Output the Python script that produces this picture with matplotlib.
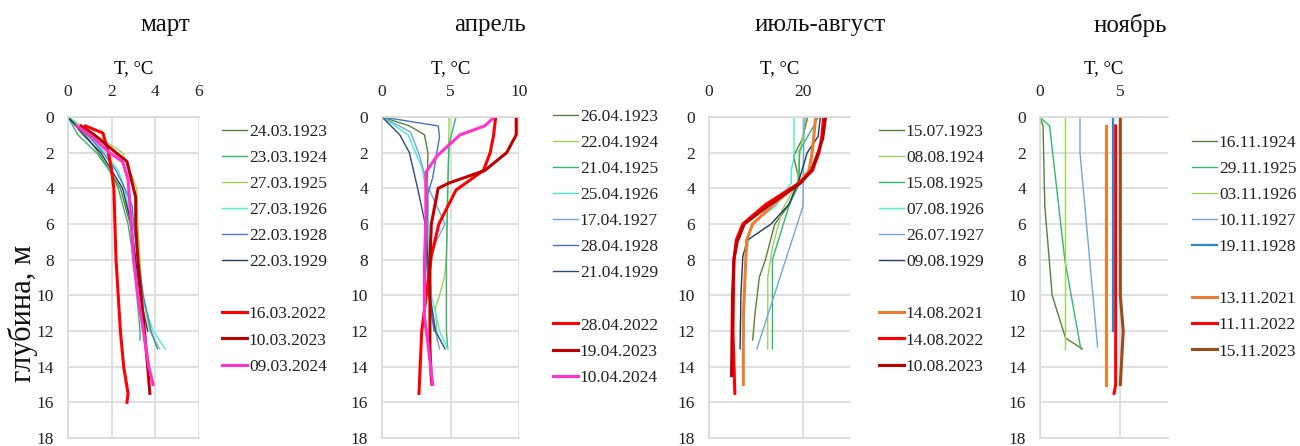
import matplotlib.pyplot as plt
from matplotlib.lines import Line2D

plt.rcParams['font.family'] = ['Liberation Serif', 'DejaVu Serif']

# ---- data: one block per panel (depth in m, temperature in °C) ----
titles = ['март', 'апрель', 'июль-август', 'ноябрь']
x_limits = [(0, 6), (0, 10), (0, 30), (0, 8)]
x_ticks = [[0, 2, 4, 6], [0, 5, 10], [0, 20], [0, 5]]
depth_ticks = list(range(0, 19, 2))

mar_dates = ['24.03.1923', '23.03.1924', '27.03.1925', '27.03.1926', '22.03.1928', '22.03.1929',
             '16.03.2022', '10.03.2023', '09.03.2024']
mar_depth = [
    [0, 1, 2, 3, 4, 6, 8, 10, 12],
    [0, 1, 2, 3, 4, 6, 8, 10, 12, 12.5],
    [0, 2, 4, 6, 8, 10, 12, 13],
    [0, 1, 2, 3, 4, 6, 8, 10, 12, 13],
    [0, 1, 2, 3, 4, 5, 6, 8, 10, 12, 13],
    [0, 1, 2, 3, 4, 6, 8, 10, 12],
    [0.5, 0.9, 2, 3, 4, 6, 8, 10, 12, 14, 15.5, 16],
    [0.5, 1, 2.5, 4.5, 6, 8, 10, 12, 14, 15.5],
    [0.5, 1, 2, 2.5, 3.5, 6, 8, 10, 12, 14, 15],
]
mar_temp = [
    [0, 0.8, 1.4, 1.9, 2.4, 2.85, 3.05, 3.2, 3.5],
    [0, 0.45, 1.3, 1.9, 2.3, 2.75, 3.0, 3.15, 3.3, 3.3],
    [0, 2.5, 3.15, 3.2, 3.3, 3.4, 3.75, 4.2],
    [0, 0.9, 1.7, 2.3, 2.6, 2.9, 3.1, 3.35, 3.9, 4.45],
    [0, 0.9, 1.6, 2.2, 2.6, 2.95, 3.0, 3.2, 3.45, 3.8, 4.1],
    [0, 0.7, 1.5, 2.0, 2.5, 2.9, 3.1, 3.3, 3.65],
    [0.8, 1.6, 1.85, 2.0, 2.1, 2.15, 2.2, 2.3, 2.4, 2.55, 2.75, 2.7],
    [0.6, 1.2, 2.7, 3.1, 3.1, 3.2, 3.35, 3.5, 3.65, 3.75],
    [0.4, 1.0, 1.9, 2.5, 2.75, 2.9, 3.0, 3.2, 3.45, 3.7, 3.9],
]

apr_dates = ['26.04.1923', '22.04.1924', '21.04.1925', '25.04.1926', '17.04.1927', '28.04.1928',
             '21.04.1929', '28.04.2022', '19.04.2023', '10.04.2024']
apr_depth = [
    [0, 0.5, 1, 2, 4, 6, 8, 10, 12],
    [0, 2, 4, 6, 8, 9, 10, 10.7, 12, 12.5],
    [0, 1.5, 4, 6, 8, 10, 12, 13],
    [0, 1, 2.8, 4.7, 6, 8, 10, 12, 13],
    [0, 0.85, 2.2, 3.9, 6, 6.9, 8, 10, 12, 13],
    [0, 0.5, 1.1, 3.4, 4.3, 6, 8, 10, 12],
    [0, 1, 2, 4, 5.8, 8, 10, 12, 13],
    [0, 1, 2, 3, 4.1, 6, 7.8, 9.3, 12, 15.5],
    [0, 1, 2, 3, 3.7, 4, 6, 8, 10, 13, 14.7, 15],
    [0, 0.5, 1, 2.2, 3.1, 6, 8, 11.2, 12.7, 15],
]
apr_temp = [
    [0, 2.0, 3.1, 3.35, 3.3, 3.2, 3.25, 3.4, 3.9],
    [4.9, 4.85, 4.8, 4.75, 4.7, 4.55, 4.2, 3.9, 4.0, 4.0],
    [5.4, 4.9, 4.8, 4.75, 4.7, 4.7, 4.7, 4.8],
    [0, 1.9, 2.9, 3.35, 3.4, 3.4, 3.6, 4.2, 4.8],
    [0, 2.1, 2.75, 3.35, 4.6, 4.0, 3.5, 3.5, 3.9, 4.2],
    [0, 4.1, 4.2, 3.7, 3.35, 3.3, 3.3, 3.4, 3.8],
    [0, 1.3, 2.0, 2.6, 3.1, 3.35, 3.5, 3.9, 4.6],
    [8.3, 8.15, 7.9, 7.4, 5.4, 4.15, 3.6, 3.35, 2.9, 2.7],
    [9.8, 9.8, 9.1, 7.5, 4.9, 4.1, 3.6, 3.5, 3.5, 3.5, 3.6, 3.65],
    [8.2, 7.5, 5.7, 4.0, 3.2, 3.2, 3.1, 3.1, 3.35, 3.7],
]

aug_dates = ['15.07.1923', '08.08.1924', '15.08.1925', '07.08.1926', '26.07.1927', '09.08.1929',
             '14.08.2021', '14.08.2022', '10.08.2023']
aug_depth = [
    [0, 1.2, 2.2, 3.7, 5, 6, 8, 9, 11, 12.5],
    [0, 1.1, 2.4, 3.7, 5.2, 7.3, 9, 13],
    [0, 0.5, 1.9, 3.7, 5, 8, 13],
    [0, 2.2, 3, 3.7, 5, 6, 8, 10, 12, 12.5],
    [0, 1, 3, 5, 13],
    [0, 1.1, 2, 3.5, 4.9, 6, 6.9, 7.8, 9.9, 13],
    [0, 1.9, 3, 3.7, 4.7, 6, 6.9, 11.2, 15],
    [0, 1.1, 2, 3, 3.7, 4.9, 6, 6.9, 8, 12, 15.5],
    [0, 1.2, 2, 3, 3.7, 5, 6, 7, 8, 10, 14.5],
]
aug_temp = [
    [21.0, 19.9, 18.0, 19.3, 16.8, 14.0, 12.0, 10.7, 9.8, 9.3],
    [20.6, 19.9, 19.2, 18.8, 15.6, 13.5, 12.5, 12.5],
    [23.2, 22.3, 19.2, 19.2, 17.0, 13.5, 13.5],
    [18.1, 18.1, 17.5, 17.5, 14.2, 9.0, 7.8, 7.6, 7.5, 7.5],
    [20.2, 20.2, 20.1, 20.0, 10.2],
    [23.7, 23.2, 20.9, 19.2, 17.0, 13.2, 8.2, 7.2, 6.8, 6.6],
    [22.7, 22.0, 21.3, 19.2, 14.6, 9.3, 8.0, 7.3, 7.3],
    [24.4, 24.0, 23.4, 22.0, 19.2, 12.1, 7.2, 5.8, 5.3, 5.1, 5.5],
    [24.8, 24.2, 23.2, 21.8, 19.5, 12.5, 7.5, 6.0, 5.3, 5.0, 4.8],
]

nov_dates = ['16.11.1924', '29.11.1925', '03.11.1926', '10.11.1927', '19.11.1928',
             '13.11.2021', '11.11.2022', '15.11.2023']
nov_depth = [
    [0, 0.5, 5, 10, 12.4, 13],
    [0.1, 0.5, 8, 13],
    [0, 13],
    [0, 2, 12.9],
    [0, 12],
    [0.5, 15],
    [0.5, 15, 15.5],
    [0, 10, 12, 15],
]
nov_temp = [
    [0, 0.19, 0.3, 0.76, 1.6, 2.65],
    [0.1, 0.6, 1.55, 2.55],
    [1.57, 1.57],
    [2.5, 2.5, 3.6],
    [4.57, 4.57],
    [4.13, 4.13],
    [4.73, 4.73, 4.63],
    [5.02, 5.02, 5.2, 5.02],
]

# ---- styles ----
OLIVE, GREEN, LGREEN, CYAN = '#548235', '#2DB96A', '#9BD35A', '#42F0CF'
LBLUE, BLUE, NAVY = '#6FA8DC', '#4472C4', '#1F3864'
RED, DRED, MAG, ORANGE, BROWN = '#FF0000', '#C00000', '#FF33CC', '#ED7D31', '#9C4A1A'

panel_colors = [
    [OLIVE, GREEN, LGREEN, CYAN, '#4A7FD0', NAVY, RED, DRED, MAG],
    [OLIVE, LGREEN, GREEN, CYAN, LBLUE, BLUE, '#2F4B7C', RED, DRED, MAG],
    [OLIVE, LGREEN, GREEN, CYAN, LBLUE, NAVY, ORANGE, RED, DRED],
    [OLIVE, GREEN, LGREEN, LBLUE, '#2E86D1', ORANGE, RED, BROWN],
]
n_old = [6, 7, 6, 5]

panels = [
    (mar_dates, mar_depth, mar_temp),
    (apr_dates, apr_depth, apr_temp),
    (aug_dates, aug_depth, aug_temp),
    (nov_dates, nov_depth, nov_temp),
]

W, H = 1300, 446
fig = plt.figure(figsize=(W / 100, H / 100), dpi=100)

# axes boxes in pixels: left, right ; top/bottom shared
ax_px = [(68, 199), (382, 519), (709, 850), (1040, 1168)]
top_px, bot_px = 117, 438
title_x = [165, 490, 820, 1130]
legend_px = [(222, 124), (553, 109), (879, 124), (1192, 135)]
GRID = '#D9D9D9'

for i, (dates, depths, temps) in enumerate(panels):
    l, r = ax_px[i]
    ax = fig.add_axes([l / W, 1 - bot_px / H, (r - l) / W, (bot_px - top_px) / H])

    handles = []
    for k, (d, t) in enumerate(zip(depths, temps)):
        lw = 1.0 if k < n_old[i] else 2.2
        if i == 3 and k == 4:
            lw = 1.6
        ln, = ax.plot(t, d, color=panel_colors[i][k], lw=lw, label=dates[k],
                      solid_joinstyle='miter')
        handles.append(ln)
    blank = Line2D([], [], color='none', label=' ')
    handles = handles[:n_old[i]] + [blank] + handles[n_old[i]:]

    ax.set_xlim(*x_limits[i])
    ax.set_ylim(18, 0)
    ax.set_xticks(x_ticks[i])
    ax.set_yticks(depth_ticks)
    ax.xaxis.tick_top()
    ax.xaxis.set_label_position('top')
    ax.set_xlabel('T, °C', fontsize=13.5, labelpad=8)
    ax.tick_params(length=0, labelsize=12.5, colors='#222222')
    ax.tick_params(axis='x', pad=12)
    ax.tick_params(axis='y', pad=10)
    ax.grid(True, color=GRID, lw=1.2)
    ax.set_axisbelow(True)
    for side in ['left', 'top', 'bottom']:
        ax.spines[side].set_color(GRID)
        ax.spines[side].set_linewidth(1.2)
    ax.spines['right'].set_visible(False)

    lx, ly = legend_px[i]
    ax.legend(handles=handles, loc='upper left', bbox_to_anchor=(lx / W, 1 - ly / H),
              bbox_transform=fig.transFigure, frameon=False, fontsize=12.5,
              borderpad=0, borderaxespad=0, handlelength=1.45, handletextpad=0.1,
              labelspacing=0.57, labelcolor='#222222')

    fig.text(title_x[i] / W, 1 - 25 / H, titles[i], ha='center', va='center',
             fontsize=18, color='#111111')

fig.text(23 / W, 1 - 313 / H, 'глубина, м', rotation=90, ha='center', va='center',
         fontsize=22, color='#111111')

plt.savefig('out.png', dpi=100)
